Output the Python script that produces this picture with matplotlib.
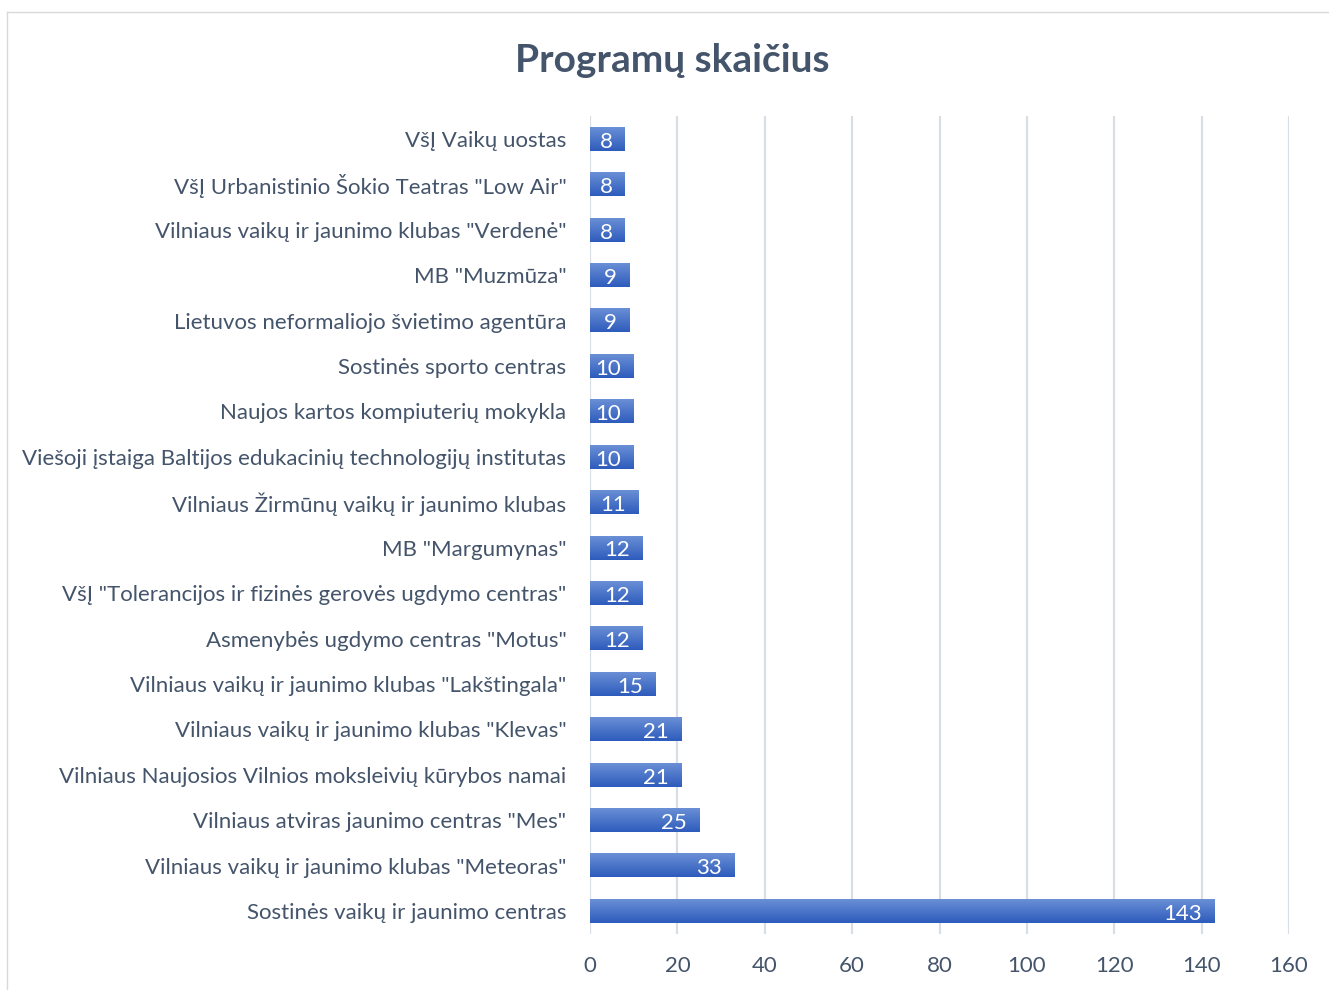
import numpy as np
import matplotlib
matplotlib.use("Agg")
import matplotlib.pyplot as plt
from matplotlib.colors import LinearSegmentedColormap
from matplotlib.lines import Line2D

# ---- Data (bottom to top) ----
organizations = [
    "Sostinės vaikų ir jaunimo centras",
    "Vilniaus vaikų ir jaunimo klubas \"Meteoras\"",
    "Vilniaus atviras jaunimo centras \"Mes\"",
    "Vilniaus Naujosios Vilnios moksleivių kūrybos namai",
    "Vilniaus vaikų ir jaunimo klubas \"Klevas\"",
    "Vilniaus vaikų ir jaunimo klubas \"Lakštingala\"",
    "Asmenybės ugdymo centras \"Motus\"",
    "VšĮ \"Tolerancijos ir fizinės gerovės ugdymo centras\"",
    "MB \"Margumynas\"",
    "Vilniaus Žirmūnų vaikų ir jaunimo klubas",
    "Viešoji įstaiga Baltijos edukacinių technologijų institutas",
    "Naujos kartos kompiuterių mokykla",
    "Sostinės sporto centras",
    "Lietuvos neformaliojo švietimo agentūra",
    "MB \"Muzmūza\"",
    "Vilniaus vaikų ir jaunimo klubas \"Verdenė\"",
    "VšĮ Urbanistinio Šokio Teatras \"Low Air\"",
    "VšĮ Vaikų uostas",
]
program_counts = [143, 33, 25, 21, 21, 15, 12, 12, 12, 11, 10, 10, 10, 9, 9, 8, 8, 8]
x_ticks = [0, 20, 40, 60, 80, 100, 120, 140, 160]

title = "Programų skaičius"
text_color = "#44546a"
grid_color = "#d9dde4"

plt.rcParams['font.family'] = ['Lato', 'DejaVu Sans']

fig = plt.figure(figsize=(13.29, 9.9), dpi=100)
ax = fig.add_axes([590 / 1329, 1 - 933.7 / 990, 699 / 1329, 817.4 / 990])

# ---- Bars with a vertical blue gradient (light top, dark bottom) ----
bar_h = 0.52
ypos = np.arange(len(organizations))
bars = ax.barh(ypos, program_counts, height=bar_h, color="none", zorder=3)
grad_cmap = LinearSegmentedColormap.from_list("bar_grad", ["#2e5cbc", "#6a8fd6"])
grad = np.linspace(0, 1, 64).reshape(-1, 1)
for b in bars:
    x0, y0 = b.get_x(), b.get_y()
    w, h = b.get_width(), b.get_height()
    ax.imshow(grad, cmap=grad_cmap, aspect="auto", origin="lower",
              extent=(x0, x0 + w, y0, y0 + h), zorder=3, interpolation="bilinear")

labels = ax.bar_label(bars, labels=[str(v) for v in program_counts], label_type="edge",
                      padding=-9, color="white", fontsize=16, zorder=4)
for t in labels:
    t.set_horizontalalignment("right")
    t.set_verticalalignment("center")
    x, y = t.xyann
    t.xyann = (x, y - 2)

ax.set_xlim(0, 160)
ax.set_ylim(-0.5, len(organizations) - 0.5)
ax.set_xticks(x_ticks)
ax.set_xticklabels([str(v) for v in x_ticks])
ax.set_yticks(ypos)
ax.set_yticklabels(organizations)
ax.tick_params(axis="both", length=0, labelsize=16, labelcolor=text_color)
ax.tick_params(axis="x", pad=16)
ax.tick_params(axis="y", pad=17)

ax.grid(axis="x", color=grid_color, linewidth=1.6, zorder=0)
ax.set_axisbelow(True)
for s in ax.spines.values():
    s.set_visible(False)

fig.text(672 / 1329, 1 - 60 / 990, title, ha="center", va="center",
         fontsize=28, fontweight="bold", color=text_color)

# chart frame (only top and left visible in the crop)
fig.add_artist(Line2D([6.5 / 1329, 1.0], [1 - 11.5 / 990, 1 - 11.5 / 990],
                      transform=fig.transFigure, color="#d9d9d9", linewidth=1))
fig.add_artist(Line2D([6.5 / 1329, 6.5 / 1329], [0, 1 - 11.5 / 990],
                      transform=fig.transFigure, color="#d9d9d9", linewidth=1))

fig.savefig("out.png", dpi=100)
